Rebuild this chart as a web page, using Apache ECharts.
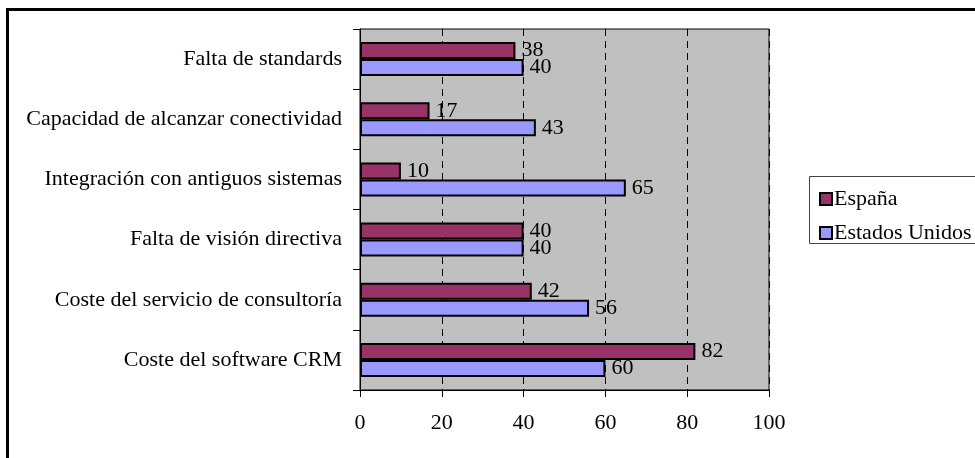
<!DOCTYPE html>
<html>
<head>
<meta charset="utf-8">
<script src="https://cdn.jsdelivr.net/npm/echarts@6/dist/echarts.min.js"></script>
<style>
  html, body { margin: 0; padding: 0; background: #fff; }
  #main { width: 975px; height: 458px; }
</style>
</head>
<body>
<div id="main"></div>
<script>
// categories listed top to bottom (axis is inverted)
var categories = [
    'Falta de standards',
    'Capacidad de alcanzar conectividad',
    'Integración con antiguos sistemas',
    'Falta de visión directiva',
    'Coste del servicio de consultoría',
    'Coste del software CRM'
];
var espana = [38, 17, 10, 40, 42, 82];
var estadosUnidos = [40, 43, 65, 40, 56, 60];
var xTicks = { min: 0, max: 100, interval: 20 };

var serif = '"Liberation Serif", "Times New Roman", serif';
var fs = 22;

var myChart = echarts.init(document.getElementById('main'));

option = {
    backgroundColor: '#ffffff',
    animation: false,
    textStyle: { fontFamily: serif, color: '#000' },

    graphic: [
        // outer frame, cut off at right and bottom
        {
            type: 'rect',
            shape: { x: 7.5, y: 9.5, width: 1100, height: 600 },
            style: { fill: null, stroke: '#000', lineWidth: 3 },
            silent: true
        },
        // legend box
        {
            type: 'rect',
            shape: { x: 809.5, y: 176.5, width: 200, height: 67 },
            style: { fill: '#fff', stroke: '#444', lineWidth: 1 },
            silent: true,
            z: 0
        }
    ],

    grid: {
        left: 360,
        top: 29,
        right: 206,
        bottom: 68,
        show: true,
        backgroundColor: '#c0c0c0',
        borderColor: '#000',
        borderWidth: 1
    },

    legend: {
        orient: 'vertical',
        left: 814,
        top: 183,
        itemWidth: 12,
        itemHeight: 12,
        itemGap: 12,
        icon: 'rect',
        itemStyle: { borderColor: '#000', borderWidth: 2 },
        textStyle: { fontFamily: serif, fontSize: fs, color: '#000', padding: [0, 0, 0, -3] },
        data: ['España', 'Estados Unidos'],
        z: 5
    },

    xAxis: {
        type: 'value',
        min: xTicks.min,
        max: xTicks.max,
        interval: xTicks.interval,
        axisLine: { show: true, lineStyle: { color: '#000', width: 1 } },
        axisTick: { show: true, inside: false, length: 7, lineStyle: { color: '#000' } },
        axisLabel: { margin: 22, fontFamily: serif, fontSize: fs, color: '#000' },
        splitLine: { show: true, lineStyle: { color: '#000', type: [7, 5], width: 1 } }
    },

    yAxis: {
        type: 'category',
        inverse: true,
        data: categories,
        axisLine: { show: true, lineStyle: { color: '#000', width: 1 } },
        axisTick: { show: true, length: 7, lineStyle: { color: '#000' } },
        axisLabel: { margin: 18, fontFamily: serif, fontSize: fs, color: '#000' },
        splitLine: { show: false }
    },

    series: [
        {
            name: 'España',
            type: 'bar',
            data: espana,
            barWidth: 17,
            barGap: '0%',
            itemStyle: { color: '#993366', borderColor: '#000', borderWidth: 2 },
            label: {
                show: true,
                position: 'right',
                distance: 6,
                fontFamily: serif,
                fontSize: fs,
                color: '#000'
            }
        },
        {
            name: 'Estados Unidos',
            type: 'bar',
            data: estadosUnidos,
            barWidth: 17,
            barGap: '0%',
            itemStyle: { color: '#9999ff', borderColor: '#000', borderWidth: 2 },
            label: {
                show: true,
                position: 'right',
                distance: 6,
                fontFamily: serif,
                fontSize: fs,
                color: '#000'
            }
        }
    ]
};

myChart.setOption(option);
</script>
</body>
</html>
